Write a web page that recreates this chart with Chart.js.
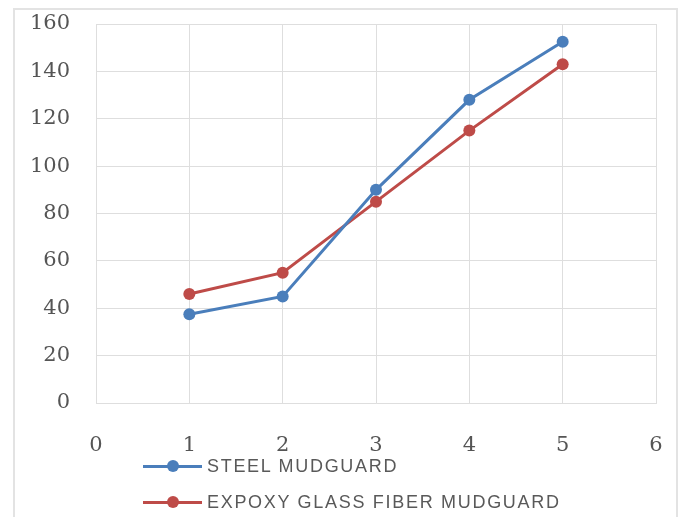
<!DOCTYPE html>
<html>
<head>
<meta charset="utf-8">
<script src="https://cdn.jsdelivr.net/npm/chart.js@4"></script>
<style>
  body { margin: 0; background: #fff; }
  #wrap { position: relative; width: 685px; height: 517px; overflow: hidden; }
  #frame { position: absolute; left: 13px; top: 8px; width: 665px; height: 530px; border: 2px solid #e3e3e3; box-sizing: border-box; }
  #myChart { position: absolute; left: 0; top: 0; }
  #legend { position: absolute; left: 143px; top: 0; font-family: "Liberation Sans", Arial, sans-serif; font-size: 18px; letter-spacing: 1.7px; color: #595959; }
  .item { position: absolute; left: 0; white-space: nowrap; height: 20px; line-height: 20px; }
  .sample { position: absolute; left: 0; top: 9px; width: 59px; height: 3px; }
  .dot { position: absolute; left: 24px; top: -5px; width: 12px; height: 12px; border-radius: 50%; }
  .txt { position: absolute; left: 64px; top: 0; }
</style>
</head>
<body>
<div id="wrap">
  <div id="frame"></div>
  <canvas id="myChart" width="685" height="517"></canvas>
  <div id="legend"></div>
</div>
<script>
const xValues = [1, 2, 3, 4, 5];
const steelValues = [37.5, 45, 90, 128, 152.5];
const epoxyValues = [46, 55, 85, 115, 143];
const seriesNames = ["STEEL MUDGUARD", "EXPOXY GLASS FIBER MUDGUARD"];
const seriesColors = ["#4a7ebb", "#be4b48"];

function toPoints(ys) {
    return xValues.map((x, i) => ({ x: x, y: ys[i] }));
}

const datasets = [steelValues, epoxyValues].map((ys, i) => ({
    label: seriesNames[i],
    data: toPoints(ys),
    borderColor: seriesColors[i],
    backgroundColor: seriesColors[i],
    borderWidth: 3,
    pointRadius: 6,
    pointHoverRadius: 6,
    pointBorderWidth: 0,
    fill: false,
    tension: 0
}));

const tickFont = { family: "DejaVu Serif", size: 21 };

// drop the label overflow padding so that layout.padding alone places the plot
function noPad(s) {
    s.paddingTop = 0;
    s.paddingBottom = 0;
    s.paddingLeft = 0;
    s.paddingRight = 0;
}

new Chart(document.getElementById("myChart"), {
    type: "line",
    data: { datasets: datasets },
    options: {
        responsive: false,
        animation: false,
        layout: { padding: { left: 0, right: 29, top: 24, bottom: 0 } },
        plugins: {
            legend: { display: false },
            tooltip: { enabled: false }
        },
        scales: {
            x: {
                type: "linear",
                min: 0,
                max: 6,
                ticks: { stepSize: 1, color: "#555", font: tickFont, padding: 30 },
                grid: { color: "#dedede", lineWidth: 1, drawTicks: false },
                border: { color: "#dedede" },
                afterFit: s => { s.height = 114; noPad(s); }
            },
            y: {
                min: 0,
                max: 160,
                ticks: { stepSize: 20, color: "#555", font: tickFont, padding: 26 },
                grid: { color: "#dedede", lineWidth: 1, drawTicks: false },
                border: { color: "#dedede" },
                afterFit: s => { s.width = 96; noPad(s); }
            }
        }
    }
});

// legend, stacked as in the original
const legend = document.getElementById("legend");
const rowTops = [456, 492];
seriesNames.forEach((name, i) => {
    const item = document.createElement("div");
    item.className = "item";
    item.style.top = rowTops[i] + "px";
    item.innerHTML = '<div class="sample" style="background:' + seriesColors[i] + '">' +
        '<div class="dot" style="background:' + seriesColors[i] + '"></div></div>' +
        '<span class="txt">' + name + '</span>';
    legend.appendChild(item);
});
</script>
</body>
</html>
